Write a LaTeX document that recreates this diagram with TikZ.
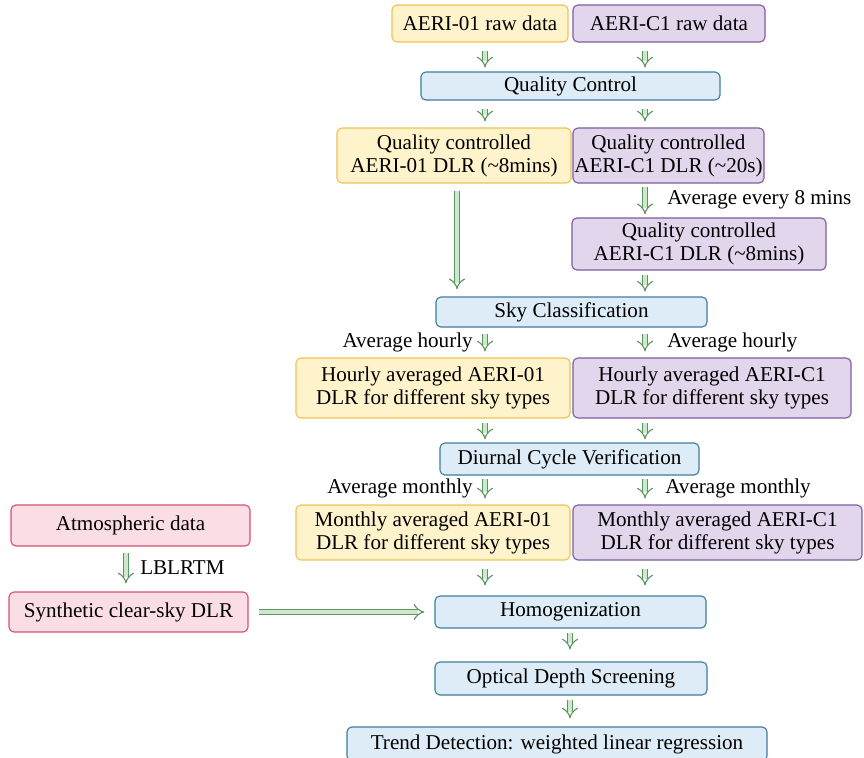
\documentclass[tikz,border=0pt]{standalone}
\usepackage{fontspec}
\setmainfont{Liberation Serif}
\usepackage{tikz}
\usetikzlibrary{positioning, calc, arrows.meta}
\definecolor{aeriA}{RGB}{255, 243, 204}
\definecolor{aeriAedge}{RGB}{238, 196, 84}
\definecolor{aeriC}{RGB}{226, 214, 236}
\definecolor{aeriCedge}{RGB}{128, 92, 160}
\definecolor{proc}{RGB}{221, 236, 246}
\definecolor{procedge}{RGB}{62, 126, 156}
\definecolor{synth}{RGB}{251, 222, 229}
\definecolor{synthedge}{RGB}{214, 82, 112}
\definecolor{arrowedge}{RGB}{90, 150, 96}
\definecolor{arrowfill}{RGB}{206, 232, 206}

\tikzset{
    box/.style={draw, rounded corners=3.5pt, line width=0.8pt, align=center,
                inner sep=0pt, font=\fontsize{15}{16.4}\selectfont},
    boxA/.style={box, fill=aeriA, draw=aeriAedge},
    boxC/.style={box, fill=aeriC, draw=aeriCedge},
    boxP/.style={box, fill=proc, draw=procedge},
    boxS/.style={box, fill=synth, draw=synthedge},
    flow/.style={draw=arrowedge, line width=0.8pt, double=arrowfill,
                 double distance=3.2pt, -{Implies[scale=1.5]}},
    note/.style={font=\fontsize{15}{16.4}\selectfont, inner sep=0pt}
}

\begin{document}
\begin{tikzpicture}[x=0.025cm, y=-0.025cm]
    \useasboundingbox (0,0) rectangle (864,758);
    \coordinate (L) at (485,0);
    \coordinate (R) at (645,0);
    \coordinate (M) at (570,0);

    % raw data
    \node[boxA, minimum width=4.4cm, minimum height=0.925cm] (RAW01) at (480,23.5) {AERI-01 raw data};
    \node[boxC, minimum width=4.8cm, minimum height=0.925cm] (RAWC1) at (669,23.5) {AERI-C1 raw data};
    \node[boxP, minimum width=7.475cm, minimum height=0.7cm] (QC) at (570.5,86) {Quality Control};

    % quality controlled
    \node[boxA, minimum width=5.85cm, minimum height=1.375cm] (QC01) at (454,155.5) {Quality controlled\\AERI-01 DLR (\textasciitilde8mins)};
    \node[boxC, minimum width=4.775cm, minimum height=1.375cm] (QCC1) at (668.5,155.5) {Quality controlled\\AERI-C1 DLR (\textasciitilde20s)};
    \node[boxC, minimum width=6.35cm, minimum height=1.3cm] (QCC8) at (699,244) {Quality controlled\\AERI-C1 DLR (\textasciitilde8mins)};
    \node[note, anchor=west] at (667,200) {Average every 8 mins};

    % sky classification
    \node[boxP, minimum width=6.775cm, minimum height=0.75cm] (SKY) at (571.5,312) {Sky Classification};
    \node[note, anchor=east] at (473,342) {Average hourly};
    \node[note, anchor=west] at (667,342) {Average hourly};
    \node[boxA, minimum width=6.85cm, minimum height=1.5cm] (HR01) at (433,388) {Hourly averaged AERI-01\\DLR for different sky types};
    \node[boxC, minimum width=6.95cm, minimum height=1.5cm] (HRC1) at (712,388) {Hourly averaged AERI-C1\\DLR for different sky types};

    % diurnal cycle
    \node[boxP, minimum width=6.475cm, minimum height=0.8cm] (DCV) at (569.5,459) {Diurnal Cycle Verification};
    \node[note, anchor=east] at (473,488) {Average monthly};
    \node[note, anchor=west] at (665,488) {Average monthly};
    \node[boxA, minimum width=6.85cm, minimum height=1.375cm] (MO01) at (433,532.5) {Monthly averaged AERI-01\\DLR for different sky types};
    \node[boxC, minimum width=7.225cm, minimum height=1.375cm] (MOC1) at (717.5,532.5) {Monthly averaged AERI-C1\\DLR for different sky types};

    % synthetic
    \node[boxS, minimum width=5.975cm, minimum height=1.025cm] (ATM) at (130.5,525.5) {Atmospheric data};
    \node[boxS, minimum width=5.975cm, minimum height=1cm] (SYN) at (128.5,612) {Synthetic clear-sky DLR};
    \node[note, anchor=west] at (140,568) {LBLRTM};

    % homogenization and trend
    \node[boxP, minimum width=6.775cm, minimum height=0.8cm] (HOM) at (570.5,612) {Homogenization};
    \node[boxP, minimum width=6.8cm, minimum height=0.825cm] (ODS) at (571,678.5) {Optical Depth Screening};
    \node[boxP, minimum width=10.5cm, minimum height=0.85cm] (TRD) at (557,744) {Trend Detection: weighted linear regression};

    % arrows
    \draw[flow, shorten <=0.2cm, shorten >=0.1cm] (RAW01.south -| L) -- (QC.north -| L);
    \draw[flow, shorten <=0.2cm, shorten >=0.1cm] (RAWC1.south -| R) -- (QC.north -| R);
    \draw[flow, shorten <=0.2cm, shorten >=0.15cm] (QC.south -| L) -- (QC01.north -| L);
    \draw[flow, shorten <=0.2cm, shorten >=0.15cm] (QC.south -| R) -- (QCC1.north -| R);
    \draw[flow, shorten <=0.18cm, shorten >=0.18cm] (QC01.south -| 457,0) -- (SKY.north -| 457,0);
    \draw[flow, shorten <=0.08cm, shorten >=0.08cm] (QCC1.south -| R) -- (QCC8.north -| R);
    \draw[flow, shorten <=0.12cm, shorten >=0.12cm] (QCC8.south -| R) -- (SKY.north -| R);
    \draw[flow, shorten <=0.15cm, shorten >=0.15cm] (SKY.south -| L) -- (HR01.north -| L);
    \draw[flow, shorten <=0.15cm, shorten >=0.15cm] (SKY.south -| R) -- (HRC1.north -| R);
    \draw[flow, shorten <=0.1cm, shorten >=0.08cm] (HR01.south -| L) -- (DCV.north -| L);
    \draw[flow, shorten <=0.1cm, shorten >=0.08cm] (HRC1.south -| R) -- (DCV.north -| R);
    \draw[flow, shorten <=0.08cm, shorten >=0.15cm] (DCV.south -| L) -- (MO01.north -| L);
    \draw[flow, shorten <=0.08cm, shorten >=0.15cm] (DCV.south -| R) -- (MOC1.north -| R);
    \draw[flow, shorten <=0.2cm, shorten >=0.25cm] (MO01.south -| L) -- (HOM.north -| L);
    \draw[flow, shorten <=0.2cm, shorten >=0.25cm] (MOC1.south -| R) -- (HOM.north -| R);
    \draw[flow, shorten <=0.15cm, shorten >=0.2cm] (ATM.south -| 126,0) -- (SYN.north -| 126,0);
    \draw[flow, shorten <=0.25cm, shorten >=0.25cm] (SYN.east) -- (HOM.west);
    \draw[flow, shorten <=0.12cm, shorten >=0.3cm] (HOM.south -| M) -- (ODS.north -| M);
    \draw[flow, shorten <=0.12cm, shorten >=0.2cm] (ODS.south -| M) -- (TRD.north -| M);
\end{tikzpicture}
\end{document}
